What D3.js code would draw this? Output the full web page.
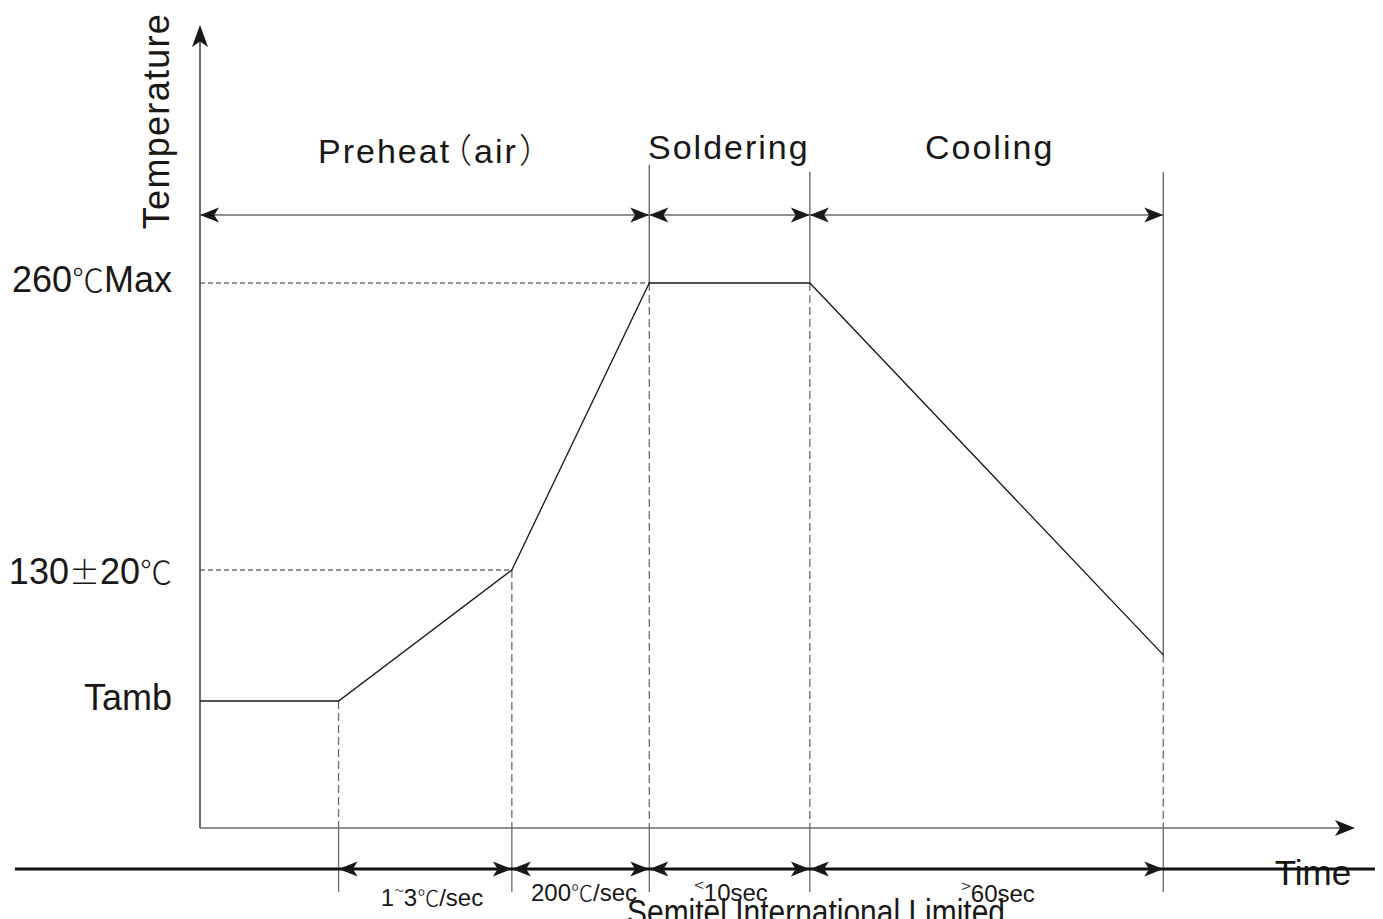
<!DOCTYPE html>
<html>
<head>
<meta charset="utf-8">
<script src="https://cdn.jsdelivr.net/npm/d3@7"></script>
<style>
  html, body { margin: 0; padding: 0; background: #fff; }
  svg { display: block; }
  text { font-family: "Liberation Sans", Arial, sans-serif; fill: #1a1717; }
</style>
</head>
<body>
<svg id="chart" width="1383" height="919"></svg>
<script>
// ---------- data ----------
const stageNames = ["Preheat（air）", "Soldering", "Cooling"];
const stageBounds = [0, 38.9, 52.8, 83.4];          // time units
const profileTime = [0, 12, 27, 38.9, 52.8, 83.4];   // time units
const profileTemp = [25, 25, 130, 260, 260, 62];     // °C (schematic)
const tempLevels = [25, 130, 260];
const tempLabels = ["Tamb", "130±20℃", "260℃Max"];
const segBounds = [12, 27, 38.9, 52.8, 83.4];
const segLabels = ["1~3℃/sec", "200℃/sec", "<10sec", ">60sec"];
const footer = "Semitel International Limited";

// ---------- layout ----------
const svg = d3.select("#chart");
const x0 = 200, x1 = 1355, yBase = 828, yTop = 25;
const x = d3.scaleLinear().domain([0, 100]).range([x0, x1]);
const y = d3.scaleLinear().domain([0, 25, 130, 260]).range([yBase, 701, 570, 283]);

const dark = "#2b2727", grey = "#6b6b6b";
const cjk = "Noto Sans CJK SC";

function arrow(tx, ty, dir, len, hw) {
  let p;
  if (dir === "r") p = [[tx, ty], [tx - len, ty - hw], [tx - len * 0.75, ty], [tx - len, ty + hw]];
  else if (dir === "l") p = [[tx, ty], [tx + len, ty - hw], [tx + len * 0.75, ty], [tx + len, ty + hw]];
  else p = [[tx, ty], [tx - hw, ty + len], [tx, ty + len * 0.75], [tx + hw, ty + len]];
  svg.append("path").attr("d", "M" + p.map(d => d.join(",")).join("L") + "Z").attr("fill", "#1a1717");
}

// dashed reference lines
[[130, segBounds[1]], [260, stageBounds[1]]].forEach(d => {
  svg.append("line").attr("x1", x0).attr("x2", x(d[1])).attr("y1", y(d[0])).attr("y2", y(d[0]))
    .attr("stroke", dark).attr("stroke-width", 1).attr("stroke-dasharray", "5,3");
});
profileTime.slice(1).forEach((t, i) => {
  const v = profileTemp[i + 1];
  svg.append("line").attr("x1", x(t)).attr("x2", x(t)).attr("y1", y(v)).attr("y2", yBase)
    .attr("stroke", grey).attr("stroke-width", 1.3).attr("stroke-dasharray", "8,4");
});

// stage boundary vertical solid lines (above profile)
[[stageBounds[1], 165, 260], [stageBounds[2], 172, 260], [stageBounds[3], 172, 62]].forEach(d => {
  svg.append("line").attr("x1", x(d[0])).attr("x2", x(d[0])).attr("y1", d[1]).attr("y2", y(d[2]))
    .attr("stroke", grey).attr("stroke-width", 1.4);
});

// vertical solid lines below x-axis
segBounds.forEach(t => {
  svg.append("line").attr("x1", x(t)).attr("x2", x(t)).attr("y1", yBase).attr("y2", 892)
    .attr("stroke", grey).attr("stroke-width", 1.3);
});

// axes
svg.append("line").attr("x1", x0).attr("x2", x0).attr("y1", yBase).attr("y2", yTop + 10)
  .attr("stroke", "#4a4646").attr("stroke-width", 1.6);
arrow(x0, yTop, "u", 22, 8);
svg.append("line").attr("x1", x0).attr("x2", x1 - 10).attr("y1", yBase).attr("y2", yBase)
  .attr("stroke", "#6b6868").attr("stroke-width", 1.6);
arrow(x1, yBase, "r", 20, 8);

// profile
const line = d3.line().x((d, i) => x(profileTime[i])).y((d, i) => y(profileTemp[i]));
svg.append("path").attr("d", line(profileTime)).attr("fill", "none")
  .attr("stroke", "#1a1717").attr("stroke-width", 1.3);

// top dimension line
const yDim = 215;
svg.append("line").attr("x1", x(stageBounds[0])).attr("x2", x(stageBounds[3])).attr("y1", yDim).attr("y2", yDim)
  .attr("stroke", grey).attr("stroke-width", 1.4);
for (let i = 0; i < stageNames.length; i++) {
  arrow(x(stageBounds[i]), yDim, "l", 19, 7.5);
  arrow(x(stageBounds[i + 1]), yDim, "r", 19, 7.5);
}

// stage labels
const stageBase = [163, 159, 159];
const stageLeft = [318, 648, 925];
stageNames.forEach((s, i) => {
  const t = svg.append("text").attr("x", stageLeft[i]).attr("y", stageBase[i])
    .attr("font-size", 34).attr("letter-spacing", 2);
  s.split(/(（|）)/).filter(p => p.length).forEach(p => {
    if (p === "（") t.append("tspan").attr("font-family", cjk).attr("font-weight", 300).attr("dx", -13).text(p);
    else if (p === "）") t.append("tspan").attr("font-family", cjk).attr("font-weight", 300).attr("dx", 1).text(p);
    else t.append("tspan").text(p);
  });
});

// y-level labels
const yLabelBase = [710, 584, 292];
tempLevels.forEach((t, i) => {
  const tx = svg.append("text").attr("x", 172).attr("y", yLabelBase[i]).attr("text-anchor", "end")
    .attr("font-size", 36);
  tempLabels[i].split(/(℃|±)/).filter(p => p.length).forEach(p => {
    if (p === "℃") tx.append("tspan").attr("font-family", cjk).attr("font-weight", 300).attr("font-size", 32).text(p);
    else if (p === "±") tx.append("tspan").attr("font-family", cjk).attr("font-weight", 300).attr("font-size", 31).text(p);
    else tx.append("tspan").text(p);
  });
});

// axis title
svg.append("text").attr("transform", "translate(169,121) rotate(-90)").attr("text-anchor", "middle")
  .attr("font-size", 36).attr("letter-spacing", 1.3).text("Temperature");

// bottom thick dimension line
const yBot = 869;
svg.append("text").attr("x", 1313).attr("y", 885).attr("text-anchor", "middle")
  .attr("font-size", 35).text("Time");
svg.append("line").attr("x1", 15).attr("x2", 1375).attr("y1", yBot).attr("y2", yBot)
  .attr("stroke", "#111").attr("stroke-width", 3);
for (let i = 0; i < segLabels.length; i++) {
  arrow(x(segBounds[i]), yBot, "l", 19, 7.5);
  arrow(x(segBounds[i + 1]), yBot, "r", 19, 7.5);
}

// segment labels
const segBase = [906, 901, 901, 902];
const segCenter = [432, 584, 731, 998];
segLabels.forEach((s, i) => {
  const t = svg.append("text").attr("x", segCenter[i]).attr("y", segBase[i]).attr("text-anchor", "middle")
    .attr("font-size", 24);
  let shift = 0;
  s.split(/(℃|~|<|>)/).filter(p => p.length).forEach(p => {
    let ts;
    if (p === "℃") {
      ts = t.append("tspan").attr("font-family", cjk).attr("font-weight", 300).attr("font-size", 22).text(p);
      if (shift) { ts.attr("dy", -shift); shift = 0; }
    } else if (p === "~" || p === "<" || p === ">") {
      ts = t.append("tspan").attr("font-family", cjk).attr("font-weight", 300).attr("font-size", 18)
        .attr("dy", -9).text(p);
      shift = -9;
    } else {
      ts = t.append("tspan").text(p);
      if (shift) { ts.attr("dy", -shift); shift = 0; }
    }
  });
});

// footer
svg.append("text").attr("x", 816).attr("y", 924).attr("text-anchor", "middle")
  .attr("font-family", "Liberation Serif, Times New Roman, serif")
  .attr("font-size", 31).attr("textLength", 378).attr("lengthAdjust", "spacingAndGlyphs")
  .attr("transform", "translate(816,924) scale(1,1.15) translate(-816,-924)")
  .text(footer);
</script>
</body>
</html>
